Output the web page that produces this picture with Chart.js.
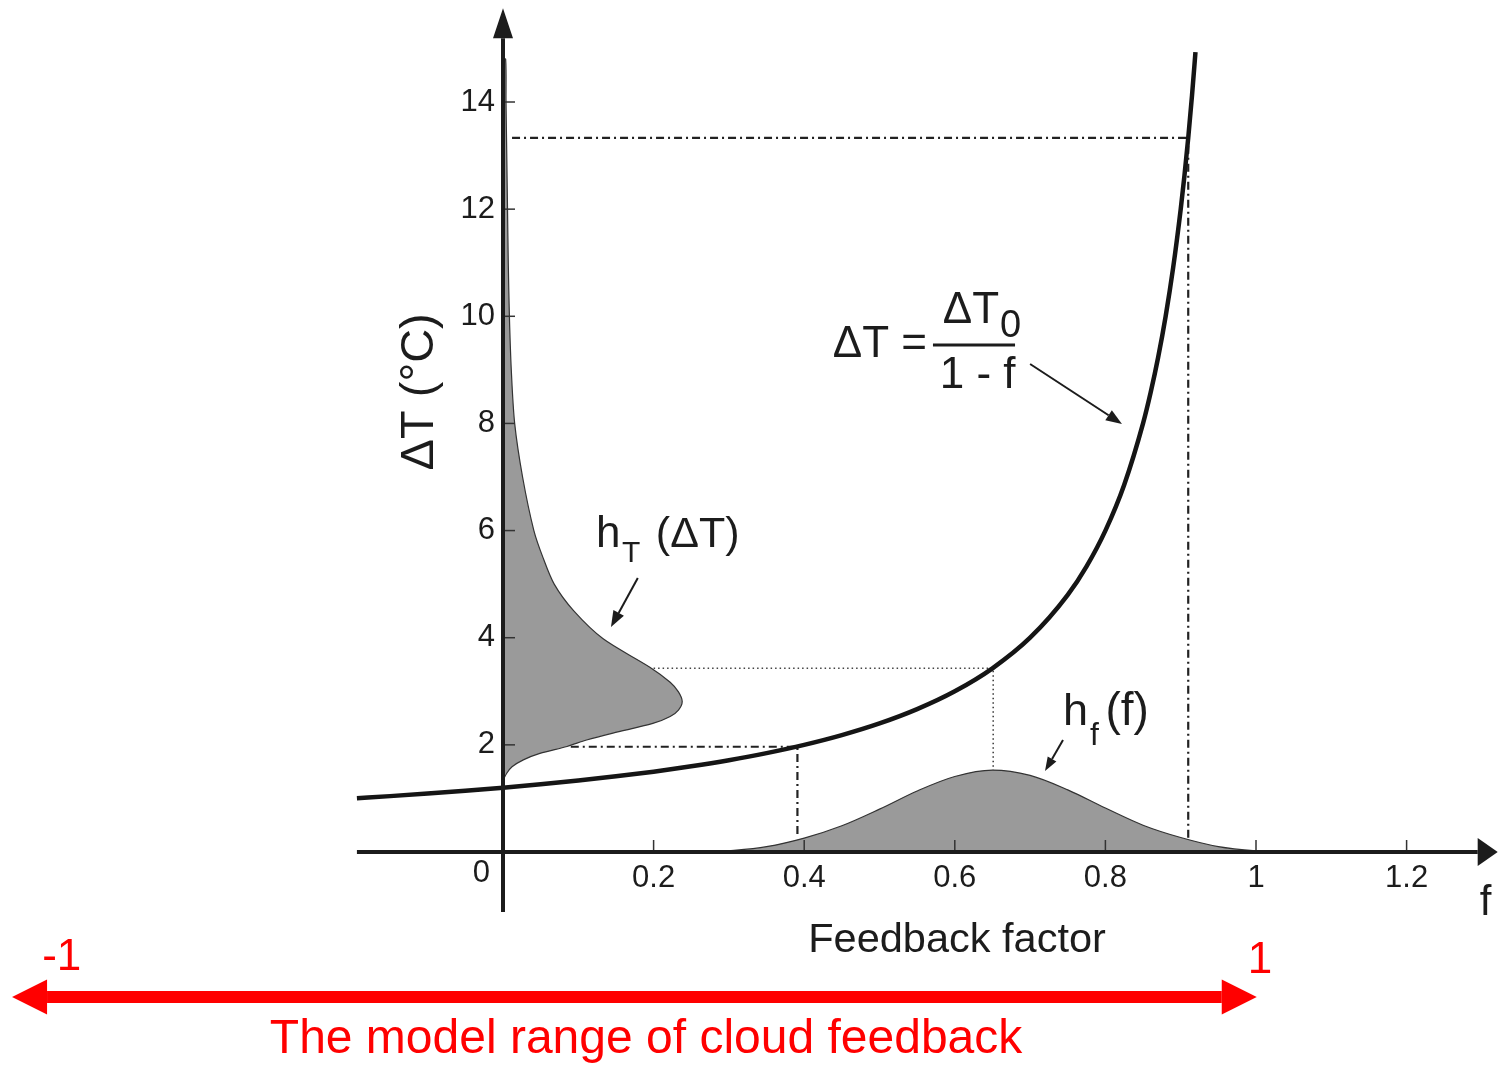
<!DOCTYPE html>
<html lang="en">

<head>
    <meta charset="UTF-8">
    <title>Feedback factor</title>
    <script src="https://cdn.jsdelivr.net/npm/chart.js"></script>
    <style>
        html, body {
            margin: 0;
            padding: 0;
            background: #fff;
        }
        .container {
            width: 1498px;
            height: 1066px;
            position: relative;
        }
    </style>
</head>

<body>
    <div class="container">
        <canvas id="grafico"></canvas>
    </div>
    <script>
        // ΔT = ΔT0 / (1 - f)
        const curveF = [-0.194, -0.15, -0.1, -0.05, 0, 0.05, 0.1, 0.15, 0.2, 0.25, 0.3, 0.35, 0.4, 0.45, 0.5, 0.55, 0.6, 0.65, 0.7, 0.75, 0.775, 0.8, 0.825, 0.85, 0.86, 0.87, 0.88, 0.89, 0.9, 0.905, 0.91, 0.915, 0.9196];
        const curveT = [1.005, 1.043, 1.091, 1.143, 1.2, 1.263, 1.333, 1.412, 1.5, 1.6, 1.714, 1.846, 2.0, 2.182, 2.4, 2.667, 3.0, 3.429, 4.0, 4.8, 5.333, 6.0, 6.857, 8.0, 8.571, 9.231, 10.0, 10.91, 12.0, 12.63, 13.33, 14.12, 14.93];

        // h_f(f), the feedback factor distribution
        const hfF = [0.28, 0.3, 0.35, 0.4, 0.45, 0.5, 0.55, 0.6, 0.65, 0.7, 0.75, 0.8, 0.85, 0.9, 0.95, 1.0, 1.03];
        const hfVal = [0, 0.02, 0.1, 0.26, 0.49, 0.8, 1.14, 1.41, 1.53, 1.43, 1.16, 0.82, 0.5, 0.27, 0.1, 0.02, 0];

        // h_T(ΔT), drawn sideways against the ΔT axis
        const htT = [1.34, 1.47, 1.59, 1.72, 1.84, 1.97, 2.09, 2.22, 2.4, 2.53, 2.65, 2.81, 2.99, 3.17, 3.45, 3.98, 4.5, 5, 5.5, 6, 7, 8, 9, 10, 11, 12, 13, 14, 14.8, 14.8];
        const htVal = [0, 0.005, 0.012, 0.027, 0.049, 0.085, 0.111, 0.146, 0.199, 0.222, 0.233, 0.238, 0.233, 0.222, 0.195, 0.133, 0.094, 0.068, 0.053, 0.041, 0.026, 0.0155, 0.011, 0.0085, 0.007, 0.006, 0.005, 0.004, 0.0035, 0];

        // guide lines
        const guideHighF = [0.012, 0.91, 0.91];
        const guideHighT = [13.33, 13.33, 0.24];
        const guideMidF = [0.2, 0.651, 0.651];
        const guideMidT = [3.43, 3.43, 1.53];
        const guideLowF = [0.09, 0.391, 0.391];
        const guideLowT = [1.965, 1.965, 0.3];

        const yTicks = [2, 4, 6, 8, 10, 12, 14];
        const xTicks = [0.2, 0.4, 0.6, 0.8, 1, 1.2];
        const xTickLabels = ['0.2', '0.4', '0.6', '0.8', '1', '1.2'];

        const pts = (xs, ys) => xs.map((v, i) => ({ x: v, y: ys[i] }));
        const FONT = '"Liberation Sans", Arial, sans-serif';
        const INK = '#1c1c1c';

        function arrow(ctx, x1, y1, x2, y2, width, head, half, color) {
            const a = Math.atan2(y2 - y1, x2 - x1);
            const bx = x2 - head * Math.cos(a), by = y2 - head * Math.sin(a);
            ctx.strokeStyle = color;
            ctx.fillStyle = color;
            ctx.lineWidth = width;
            ctx.beginPath();
            ctx.moveTo(x1, y1);
            ctx.lineTo(bx, by);
            ctx.stroke();
            ctx.beginPath();
            ctx.moveTo(x2, y2);
            ctx.lineTo(bx + half * Math.sin(a), by - half * Math.cos(a));
            ctx.lineTo(bx - half * Math.sin(a), by + half * Math.cos(a));
            ctx.closePath();
            ctx.fill();
        }

        const overlay = {
            id: 'overlay',
            afterDatasetsDraw(chart) {
                const { ctx, scales: { x, y } } = chart;
                const px = v => x.getPixelForValue(v);
                const py = v => y.getPixelForValue(v);
                const txt = (s, f, t, size, align, color) => {
                    ctx.font = size + 'px ' + FONT;
                    ctx.textAlign = align;
                    ctx.textBaseline = 'alphabetic';
                    ctx.fillStyle = color || INK;
                    ctx.fillText(s, px(f), py(t));
                };
                ctx.save();

                // tick marks
                ctx.strokeStyle = '#333';
                ctx.lineWidth = 1.5;
                yTicks.forEach(v => {
                    ctx.beginPath();
                    ctx.moveTo(px(0) + 2, py(v));
                    ctx.lineTo(px(0) + 12, py(v));
                    ctx.stroke();
                });
                xTicks.forEach(v => {
                    ctx.beginPath();
                    ctx.moveTo(px(v), py(0) - 12);
                    ctx.lineTo(px(v), py(0));
                    ctx.stroke();
                });

                // axes with arrow heads
                arrow(ctx, px(0), py(-1.12), px(0), py(15.75), 4, 30, 10, INK);
                arrow(ctx, px(-0.194), py(0), px(1.321), py(0), 4, 20, 14, INK);

                // tick labels
                ctx.font = '31px ' + FONT;
                ctx.fillStyle = INK;
                ctx.textAlign = 'right';
                ctx.textBaseline = 'middle';
                yTicks.forEach(v => ctx.fillText(String(v), px(0) - 8, py(v)));
                xTicks.forEach((v, i) => txt(xTickLabels[i], v, -0.66, 31, 'center'));
                txt('0', -0.0286, -0.56, 31, 'center');

                // axis titles
                txt('Feedback factor', 0.603, -1.867, 41.5, 'center');
                txt('f', 1.297, -1.176, 42, 'left');
                ctx.save();
                ctx.translate(px(-0.1102), py(8.59));
                ctx.rotate(-Math.PI / 2);
                ctx.font = '47px ' + FONT;
                ctx.textAlign = 'center';
                ctx.textBaseline = 'middle';
                ctx.fillStyle = INK;
                ctx.fillText('ΔT (°C)', 0, 0);
                ctx.restore();

                // formula
                txt('ΔT =', 0.438, 9.24, 44, 'left');
                txt('ΔT', 0.584, 9.875, 44, 'left');
                txt('0', 0.66, 9.61, 38, 'left');
                txt('1 - f', 0.58, 8.66, 44, 'left');
                ctx.strokeStyle = INK;
                ctx.lineWidth = 3;
                ctx.beginPath();
                ctx.moveTo(px(0.571), py(9.464));
                ctx.lineTo(px(0.68), py(9.464));
                ctx.stroke();
                arrow(ctx, px(0.7), py(9.11), px(0.822), py(7.99), 2, 16, 6, INK);

                // h_T label
                txt('h', 0.1235, 5.69, 44, 'left');
                txt('T', 0.158, 5.41, 30, 'left');
                txt('(ΔT)', 0.203, 5.69, 43, 'left');
                arrow(ctx, px(0.179), py(5.115), px(0.1434), py(4.2), 2, 16, 6, INK);

                // h_f label
                txt('h', 0.7437, 2.37, 45, 'left');
                txt('f', 0.7795, 2.0, 32, 'left');
                txt('(f)', 0.8, 2.37, 46, 'left');
                arrow(ctx, px(0.7437), py(2.09), px(0.7198), py(1.512), 2, 14, 5, INK);

                // red model range
                const RED = '#ff0000';
                arrow(ctx, px(0.5), py(-2.707), px(-0.652), py(-2.707), 12, 35, 17.5, RED);
                arrow(ctx, px(0.4), py(-2.707), px(1.001), py(-2.707), 12, 35, 17.5, RED);
                txt('-1', -0.612, -2.2, 44, 'left', RED);
                txt('1', 0.989, -2.26, 44, 'left', RED);
                txt('The model range of cloud feedback', 0.19, -3.75, 48, 'center', RED);

                ctx.restore();
            }
        };

        const ctx = document.getElementById('grafico').getContext('2d');
        new Chart(ctx, {
            type: 'line',
            data: {
                datasets: [
                    {
                        label: 'ΔT',
                        data: pts(curveF, curveT),
                        borderColor: '#151515',
                        borderWidth: 4.5,
                        pointRadius: 0,
                        cubicInterpolationMode: 'monotone',
                        fill: false,
                        order: 0
                    },
                    {
                        label: 'guide high',
                        data: pts(guideHighF, guideHighT),
                        borderColor: '#222',
                        borderWidth: 2.2,
                        borderDash: [8, 4, 2, 4],
                        pointRadius: 0,
                        tension: 0,
                        fill: false,
                        order: 1
                    },
                    {
                        label: 'guide mid',
                        data: pts(guideMidF, guideMidT),
                        borderColor: '#444',
                        borderWidth: 1.6,
                        borderDash: [1.5, 3],
                        pointRadius: 0,
                        tension: 0,
                        fill: false,
                        order: 1
                    },
                    {
                        label: 'guide low',
                        data: pts(guideLowF, guideLowT),
                        borderColor: '#222',
                        borderWidth: 2.2,
                        borderDash: [8, 4, 2, 4],
                        pointRadius: 0,
                        tension: 0,
                        fill: false,
                        order: 1
                    },
                    {
                        label: 'h_f',
                        data: pts(hfF, hfVal),
                        borderColor: '#333',
                        borderWidth: 1.2,
                        backgroundColor: '#9a9a9a',
                        pointRadius: 0,
                        cubicInterpolationMode: 'monotone',
                        fill: 'origin',
                        order: 2
                    },
                    {
                        label: 'h_T',
                        data: pts(htVal, htT),
                        borderColor: '#333',
                        borderWidth: 1.2,
                        backgroundColor: '#9a9a9a',
                        pointRadius: 0,
                        tension: 0.3,
                        fill: 'shape',
                        order: 2
                    }
                ]
            },
            options: {
                responsive: true,
                maintainAspectRatio: false,
                animation: false,
                layout: { padding: 0 },
                plugins: {
                    legend: { display: false },
                    tooltip: { enabled: false }
                },
                scales: {
                    x: {
                        type: 'linear',
                        display: false,
                        min: -503 / 753,
                        max: 995 / 753
                    },
                    y: {
                        type: 'linear',
                        display: false,
                        min: -214 / 53.571,
                        max: 852 / 53.571
                    }
                }
            },
            plugins: [overlay]
        });
    </script>
</body>

</html>
